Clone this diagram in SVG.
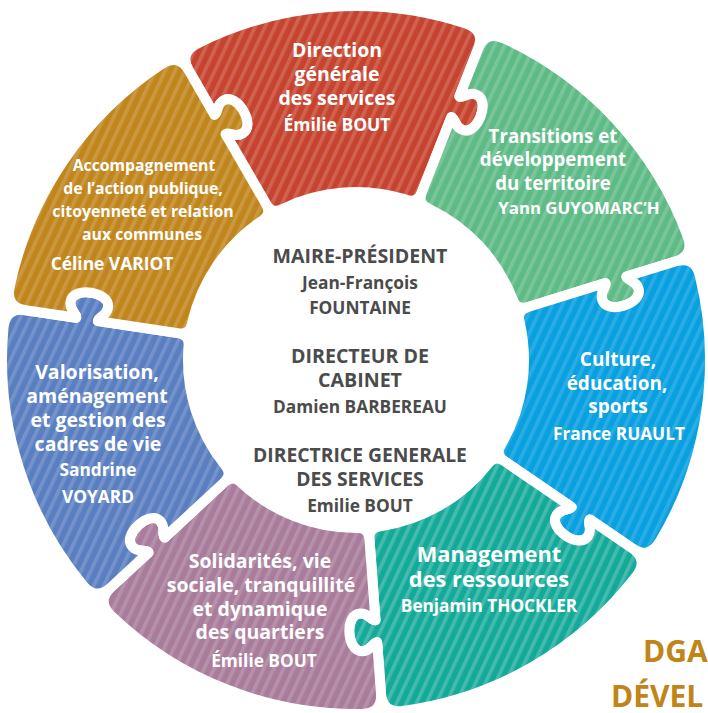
<svg xmlns="http://www.w3.org/2000/svg" xmlns:xlink="http://www.w3.org/1999/xlink" width="708" height="713" viewBox="0 0 708 713">
<style>
.pc{stroke:#fff;stroke-width:10;stroke-linejoin:round}
.w{fill:#fff;font-family:"Open Sans","Liberation Sans",sans-serif;font-weight:700;text-anchor:middle}
.c{fill:#4b4b4b;font-family:"Open Sans","Liberation Sans",sans-serif;font-weight:700;text-anchor:middle}
.dga{fill:#c08418;font-family:"Open Sans","Liberation Sans",sans-serif;font-weight:700;font-size:30px}
</style>
<defs>
<path id="piece" d="M -135.34,-327.10 A 354 354 0 0 1 135.34,-327.10 Q 153.59,-318.94 144.92,-300.92 L 122.79,-254.97 C 127.29,-252.81 131.67,-259.58 139.77,-255.67 C 146.98,-252.20 146.68,-242.36 142.34,-233.35 C 138.00,-224.34 130.49,-217.97 123.29,-221.44 C 115.18,-225.34 117.75,-232.98 113.24,-235.15 L 78.10,-162.17 Q 72.89,-151.36 61.90,-156.18 A 168 168 0 0 0 -61.90,-156.18 Q -72.89,-151.36 -78.10,-162.17 L -113.24,-235.15 C -108.74,-237.32 -104.37,-230.55 -96.26,-234.45 C -89.05,-237.92 -89.35,-247.77 -93.69,-256.78 C -98.03,-265.79 -105.54,-272.16 -112.74,-268.69 C -120.85,-264.79 -118.28,-257.14 -122.79,-254.97 L -144.92,-300.92 Q -153.59,-318.94 -135.34,-327.10 Z"/>
<pattern id="pRed" patternUnits="userSpaceOnUse" width="9" height="9" patternTransform="rotate(29.29)"><rect width="9" height="9" fill="#c5432f"/><rect width="3.6" height="9" fill="#d0634f"/></pattern>
<pattern id="pGreen" patternUnits="userSpaceOnUse" width="9" height="9" patternTransform="rotate(-22.14)"><rect width="9" height="9" fill="#5ebb86"/><rect width="3.6" height="9" fill="#7ac69b"/></pattern>
<pattern id="pBlue" patternUnits="userSpaceOnUse" width="9" height="9" patternTransform="rotate(-73.57)"><rect width="9" height="9" fill="#09a0e0"/><rect width="3.6" height="9" fill="#2aade6"/></pattern>
<pattern id="pTeal" patternUnits="userSpaceOnUse" width="9" height="9" patternTransform="rotate(-125)"><rect width="9" height="9" fill="#14aa9a"/><rect width="3.6" height="9" fill="#45bbae"/></pattern>
<pattern id="pPurple" patternUnits="userSpaceOnUse" width="9" height="9" patternTransform="rotate(-176.43)"><rect width="9" height="9" fill="#a97c9b"/><rect width="3.6" height="9" fill="#b691aa"/></pattern>
<pattern id="pBlueL" patternUnits="userSpaceOnUse" width="9" height="9" patternTransform="rotate(-227.86)"><rect width="9" height="9" fill="#5a7fc1"/><rect width="3.6" height="9" fill="#7593cb"/></pattern>
<pattern id="pGold" patternUnits="userSpaceOnUse" width="9" height="9" patternTransform="rotate(-279.29)"><rect width="9" height="9" fill="#c1861b"/><rect width="3.6" height="9" fill="#cb9842"/></pattern>
</defs>
<rect width="708" height="713" fill="#fff"/>
<g id="connectors"/>
<g id="node-dgs">
<use xlink:href="#piece" href="#piece" class="pc" fill="url(#pRed)" transform="translate(356 360) rotate(-4.29)"/>
<g class="w" font-size="19.5">
<text x="337" y="57">Direction</text>
<text x="337" y="81">générale</text>
<text x="337" y="105">des services</text>
<text x="337" y="131" font-size="17.5">Émilie BOUT</text>
</g>
</g>
<g id="node-transitions">
<use xlink:href="#piece" href="#piece" class="pc" fill="url(#pGreen)" transform="translate(356 360) rotate(47.14)"/>
<g class="w" font-size="18.7">
<text x="553" y="143">Transitions et</text>
<text x="553" y="166">développement</text>
<text x="553" y="190">du territoire</text>
<text x="579" y="214" font-size="16.8">Yann GUYOMARC’H</text>
</g>
</g>
<g id="node-culture">
<use xlink:href="#piece" href="#piece" class="pc" fill="url(#pBlue)" transform="translate(356 360) rotate(98.57)"/>
<g class="w" font-size="19">
<text x="618" y="366">Culture,</text>
<text x="617" y="390">éducation,</text>
<text x="618" y="413">sports</text>
<text x="619" y="440" font-size="17.3">France RUAULT</text>
</g>
</g>
<g id="node-management">
<use xlink:href="#piece" href="#piece" class="pc" fill="url(#pTeal)" transform="translate(356 360) rotate(150)"/>
<g class="w" font-size="21.8">
<text x="489" y="562">Management</text>
<text x="489" y="587">des ressources</text>
<text x="489" y="612" font-size="17.2">Benjamin THOCKLER</text>
</g>
</g>
<g id="node-solidarites">
<use xlink:href="#piece" href="#piece" class="pc" fill="url(#pPurple)" transform="translate(356 360) rotate(201.43)"/>
<g class="w" font-size="19.5">
<text x="260" y="568">Solidarités, vie</text>
<text x="261" y="592">sociale, tranquillité</text>
<text x="260" y="616">et dynamique</text>
<text x="260" y="639">des quartiers</text>
<text x="264" y="667" font-size="17.3">Émilie BOUT</text>
</g>
</g>
<g id="node-valorisation">
<use xlink:href="#piece" href="#piece" class="pc" fill="url(#pBlueL)" transform="translate(356 360) rotate(252.86)"/>
<g class="w" font-size="19.5">
<text x="97" y="379">Valorisation,</text>
<text x="97" y="403">aménagement</text>
<text x="98" y="427">et gestion des</text>
<text x="98" y="451">cadres de vie</text>
<text x="98" y="476" font-size="17.3">Sandrine</text>
<text x="98" y="503" font-size="17.3">VOYARD</text>
</g>
</g>
<g id="node-accompagnement">
<use xlink:href="#piece" href="#piece" class="pc" fill="url(#pGold)" transform="translate(356 360) rotate(304.29)"/>
<g class="w" font-size="15.8">
<text x="144" y="171">Accompagnement</text>
<text x="143" y="194">de l’action publique,</text>
<text x="143" y="217">citoyenneté et relation</text>
<text x="142" y="240">aux communes</text>
<text x="112" y="270" font-size="17.4">Céline VARIOT</text>
</g>
</g>
<g id="node-center" class="c">
<text x="360" y="263" font-size="19.6">MAIRE-PRÉSIDENT</text>
<text x="360" y="289" font-size="17.3">Jean-François</text>
<text x="360" y="314" font-size="17.3">FOUNTAINE</text>
<text x="360" y="363" font-size="19.6">DIRECTEUR DE</text>
<text x="360" y="387" font-size="19.6">CABINET</text>
<text x="360" y="413" font-size="17.3">Damien BARBEREAU</text>
<text x="360" y="462" font-size="19.3">DIRECTRICE GENERALE</text>
<text x="360" y="486" font-size="19.3">DES SERVICES</text>
<text x="360" y="512" font-size="17.3">Emilie BOUT</text>
</g>
<g id="title">
<text class="dga" x="643" y="662">DGA</text>
<text class="dga" x="611" y="707">DÉVEL</text>
</g>
</svg>
